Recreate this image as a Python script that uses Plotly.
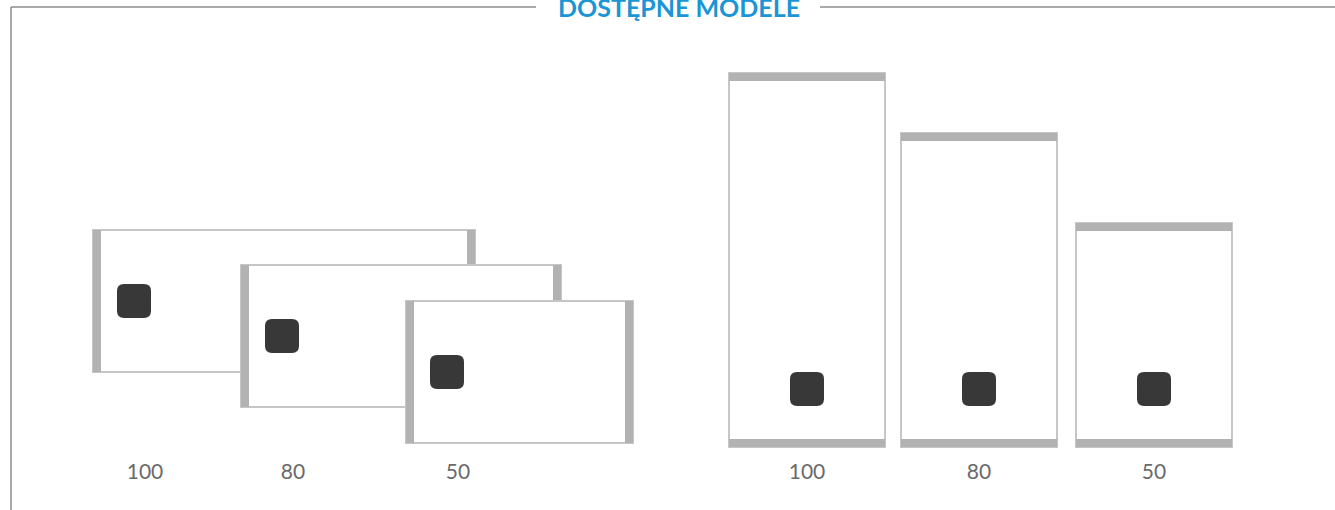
import plotly.graph_objects as go

# ---------------- Dane ----------------
TYTUL = "DOSTĘPNE MODELE"
pojemnosci = [100, 80, 50]          # litry
etykiety = ["100", "80", "50"]

# ---------------- Styl ----------------
SZARY_BELKA = "#b2b2b2"
SZARY_LINIA = "#c6c6c6"
RAMKA = "#8c8c8c"
CIEMNY = "#383838"
NIEBIESKI = "#1a95d5"
TEKST = "#6a6a6a"
W, H = 1335, 510

# skale: pojemność -> długość zbiornika (px)
def dl_poz(cap):
    return 72 + 3.1 * cap

def dl_pion(cap):
    return 74 + 3.0 * cap

def zaokr_kwadrat(x0, y0, s, r=7):
    x1, y1 = x0 + s, y0 + s
    return (f"M {x0+r},{y0} L {x1-r},{y0} Q {x1},{y0} {x1},{y0+r} "
            f"L {x1},{y1-r} Q {x1},{y1} {x1-r},{y1} L {x0+r},{y1} "
            f"Q {x0},{y1} {x0},{y1-r} L {x0},{y0+r} Q {x0},{y0} {x0+r},{y0} Z")

shapes = []

def rect(x0, y0, x1, y1, fill, line=None, lw=0):
    shapes.append(dict(type="rect", x0=x0, y0=y0, x1=x1, y1=y1, fillcolor=fill,
                       line=dict(color=line or fill, width=lw), layer="above"))

# ---------- ramka + tytuł ----------
for (xa, ya, xb, yb) in [(11, 7, 11, H), (11, 7, 536, 7), (820, 7, W, 7)]:
    shapes.append(dict(type="line", x0=xa, y0=ya, x1=xb, y1=yb,
                       line=dict(color=RAMKA, width=1.5)))

# ---------- poziome ----------
poz_x = [93, 241, 406]
poz_y = [230, 265, 301]
POZ_H = 142
BAR = 8
lab_x, lab_y = [], []
for cap, x0, y0 in zip(pojemnosci, poz_x, poz_y):
    x1 = x0 + dl_poz(cap)
    rect(x0, y0, x1, y0 + POZ_H, "white", SZARY_LINIA, 2)
    rect(x0, y0, x0 + BAR, y0 + POZ_H, SZARY_BELKA)
    rect(x1 - BAR, y0, x1, y0 + POZ_H, SZARY_BELKA)
    shapes.append(dict(type="path", path=zaokr_kwadrat(x0 + 24, y0 + 54, 34),
                       fillcolor=CIEMNY, line=dict(width=0)))
    lab_x.append(x0 + 52)
    lab_y.append(474)

# ---------- pionowe ----------
pion_x = [729, 901, 1076]
PION_W = 156
DOL = 447
for cap, x0 in zip(pojemnosci, pion_x):
    top = DOL - dl_pion(cap)
    x1 = x0 + PION_W
    rect(x0, top, x1, DOL, "white", SZARY_LINIA, 2)
    rect(x0, top, x1, top + BAR, SZARY_BELKA)
    rect(x0, DOL - BAR, x1, DOL, SZARY_BELKA)
    cx = (x0 + x1) / 2
    shapes.append(dict(type="path", path=zaokr_kwadrat(cx - 17, 372, 34),
                       fillcolor=CIEMNY, line=dict(width=0)))
    lab_x.append(cx)
    lab_y.append(474)

fig = go.Figure()
fig.add_trace(go.Scatter(x=lab_x, y=lab_y, mode="text", text=etykiety * 2,
                         textfont=dict(family="Lato", size=21, color=TEKST),
                         hoverinfo="skip", showlegend=False))

fig.add_annotation(x=679, y=7, xref="x", yref="y", text=f"<b>{TYTUL}</b>",
                   showarrow=False, yanchor="middle",
                   font=dict(family="Lato", size=25, color=NIEBIESKI))

fig.update_layout(width=W, height=H, margin=dict(l=0, r=0, t=0, b=0),
                  plot_bgcolor="white", paper_bgcolor="white", shapes=shapes,
                  xaxis=dict(range=[0, W], visible=False, fixedrange=True),
                  yaxis=dict(range=[H, 0], visible=False, fixedrange=True))

# bez domyślnego marginesu strony, żeby wykres leżał od (0,0)
fig.write_html("out.html", config={"displayModeBar": False},
               post_script="document.body.style.margin='0';")
